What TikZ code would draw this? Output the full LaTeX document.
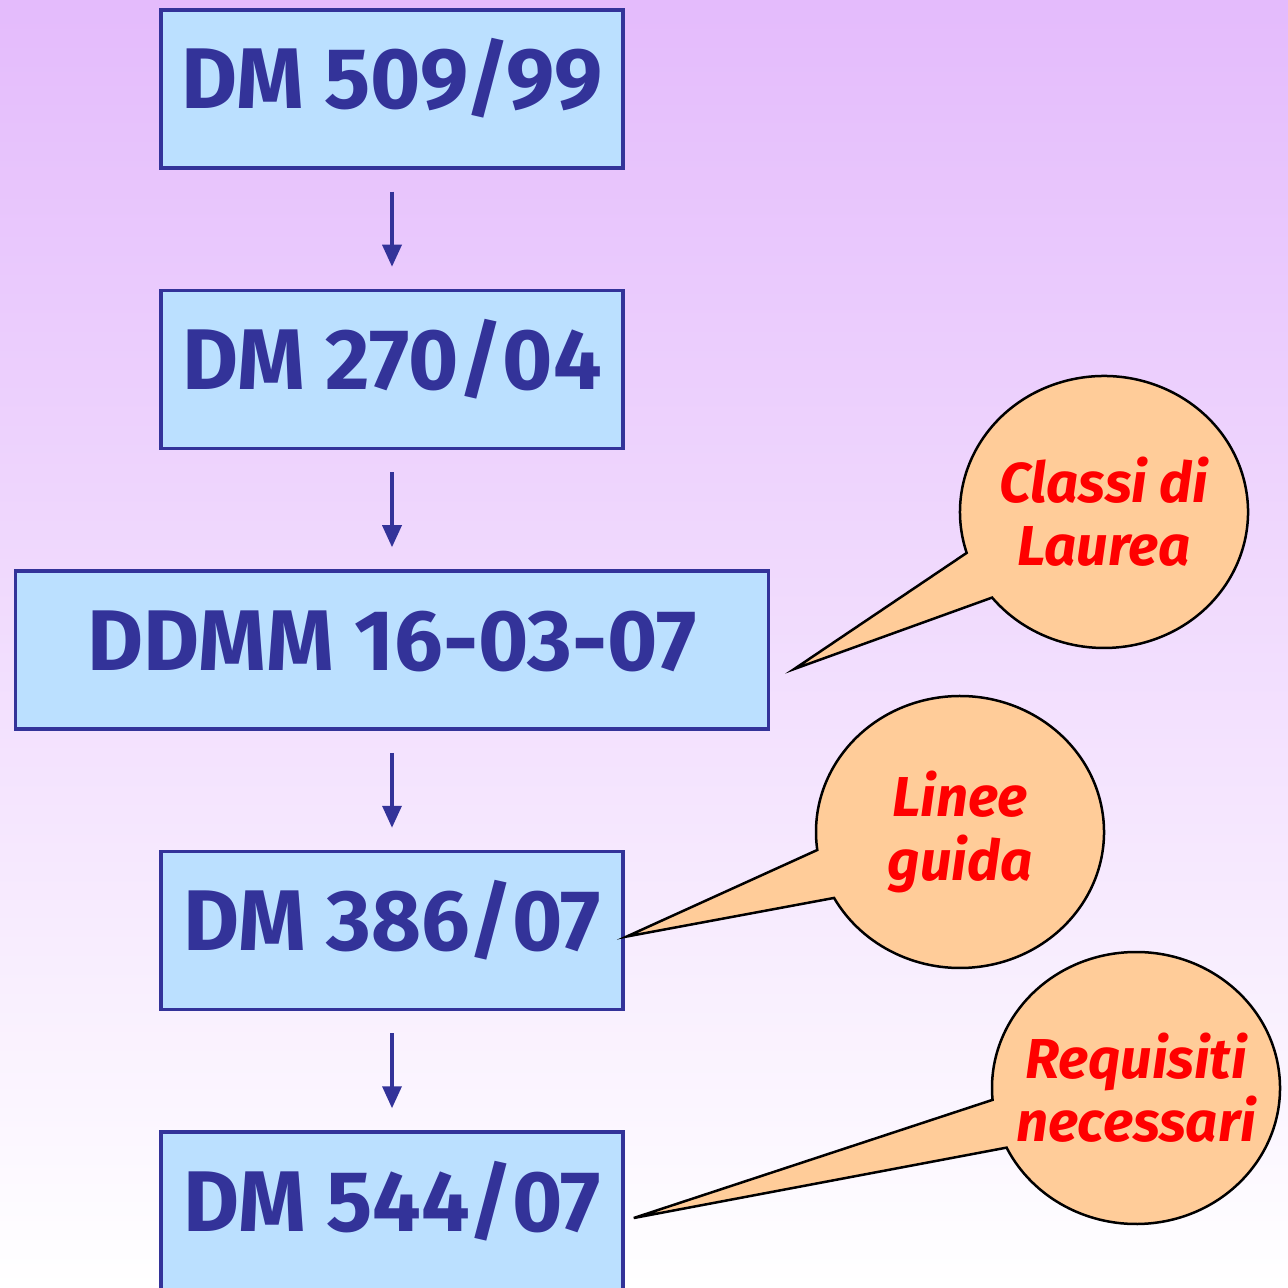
\documentclass[tikz,border=0pt]{standalone}
\usepackage{fontspec}
\setmainfont{Fira Sans}
\usepackage{tikz}
\usetikzlibrary{positioning,calc,arrows.meta}
\definecolor{dmblue}{RGB}{51,51,153}
\definecolor{dmfill}{RGB}{187,224,255}
\definecolor{bubfill}{RGB}{255,204,153}
\definecolor{bgtop}{RGB}{228,187,252}

\begin{document}
\begin{tikzpicture}[
node distance=1.19cm,
box/.style={draw=dmblue,fill=dmfill,line width=0.035cm,rectangle,minimum width=4.62cm,minimum height=1.58cm,
    text=dmblue,font=\bfseries\fontsize{24.5}{29}\selectfont,text height=0.59cm,text depth=0.19cm},
flow/.style={draw=dmblue,line width=0.035cm,-{Triangle[width=0.19cm,length=0.22cm]},
    shorten <=0.22cm,shorten >=0.22cm},
bubble/.style={fill=bubfill,draw=black,line width=0.025cm,line join=miter},
note/.style={text=red,align=center,font=\bfseries\itshape\fontsize{16}{18}\selectfont}]
\useasboundingbox (0,0) rectangle (12.88,12.87);
\shade[top color=bgtop,bottom color=white] (0,0) rectangle (12.88,12.87);

\node (dm509) [box] at (3.92,11.98) {DM 509/99};
\node (dm270) [box,below=of dm509] {DM 270/04};
\node (ddmm) [box,below=of dm270,minimum width=7.53cm] {DDMM 16-03-07};
\node (dm386) [box,below=of ddmm] {DM 386/07};
\node (dm544) [box,below=of dm386] {DM 544/07};

\draw[flow] (dm509.south) -- (dm270.north);
\draw[flow] (dm270.south) -- (ddmm.north);
\draw[flow] (ddmm.south) -- (dm386.north);
\draw[flow] (dm386.south) -- (dm544.north);

% callouts
\coordinate (classi) at (11.04,7.75);
\coordinate (linee) at (9.60,4.55);
\coordinate (requisiti) at (11.36,1.99);

\filldraw[bubble] ($(ddmm.east)+(0.24,-0.19)$) -- ($(classi)+(197.5:1.44cm and 1.36cm)$)
    arc[start angle=197.5,end angle=-141,x radius=1.44cm,y radius=1.36cm] -- cycle;
\filldraw[bubble] ($(dm386.east)+(0.02,-0.06)$) -- ($(linee)+(187.6:1.44cm and 1.36cm)$)
    arc[start angle=187.6,end angle=-151,x radius=1.44cm,y radius=1.36cm] -- cycle;
\filldraw[bubble] ($(dm544.east)+(0.09,-0.07)$) -- ($(requisiti)+(185:1.44cm and 1.36cm)$)
    arc[start angle=185,end angle=-154,x radius=1.44cm,y radius=1.36cm] -- cycle;

\node (classitxt) [note] at (classi) {Classi di\\Laurea};
\node (lineetxt) [note] at (linee) {Linee\\guida};
\node (requisititxt) [note] at (requisiti) {Requisiti\\necessari};
\end{tikzpicture}
\end{document}
